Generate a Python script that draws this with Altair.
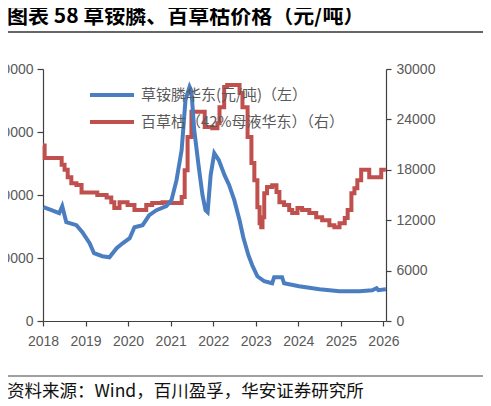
import altair as alt
import pandas as pd

# ---------------- data ----------------
years = list(range(2018, 2027))
series_names = ["草铵膦华东(元/吨)（左）", "百草枯（42%母液华东）（右）"]
left_ticks = [0, 100000, 200000, 300000, 400000]
right_ticks = [0, 6000, 12000, 18000, 24000, 30000]
title_text = ["图表 58 草铵膦、百草枯价格（元/吨）"]
source_text = ["资料来源：Wind，百川盈孚，华安证券研究所"]

glu_dates = [
    "2018-01-05", "2018-03-15", "2018-05-20", "2018-06-15", "2018-07-20", "2018-10-15",
    "2018-12-05", "2019-02-05", "2019-03-15", "2019-05-25", "2019-07-25", "2019-09-25",
    "2019-11-15", "2020-01-15", "2020-02-25", "2020-05-05", "2020-07-01", "2020-09-01",
    "2020-11-25", "2021-01-08", "2021-02-20", "2021-04-05", "2021-05-08", "2021-06-12",
    "2021-06-28", "2021-07-22", "2021-08-28", "2021-10-01", "2021-10-27", "2021-11-14",
    "2021-12-10", "2022-01-10", "2022-02-18", "2022-04-08", "2022-05-18", "2022-07-01",
    "2022-08-15", "2022-09-16", "2022-10-30", "2022-12-02", "2023-01-15", "2023-03-15",
    "2023-05-22", "2023-06-08", "2023-08-15", "2023-09-01", "2024-01-08", "2024-07-01",
    "2024-12-20", "2025-06-10", "2025-09-27", "2025-11-03", "2025-11-18", "2026-01-22",
]
glu_values = [
    180700, 175900, 171100, 182300, 156800, 152100,
    140900, 123400, 107600, 102800, 101200, 115500,
    123400, 131400, 148900, 152100, 168000, 175900,
    182300, 191800, 223600, 271300, 350800, 371500,
    365000, 303000, 247400, 199700, 175900, 172700,
    231500, 266500, 255400, 231500, 215600, 191800,
    160000, 133000, 104400, 88500, 71000, 63100,
    59900, 69500, 69500, 59900, 55100, 50400,
    47200, 47200, 48800, 52000, 49000, 50400,
]

pq_dates = [
    "2018-01-01", "2018-01-15", "2018-06-10", "2018-07-05", "2018-08-01", "2018-09-01",
    "2018-10-15", "2018-11-28", "2019-04-12", "2019-07-01", "2019-08-10", "2019-09-05",
    "2019-10-20", "2019-12-28", "2020-02-25", "2020-06-05", "2020-07-26", "2020-10-22",
    "2020-12-05", "2021-04-05", "2021-05-01", "2021-05-26", "2021-06-28", "2021-10-20",
    "2021-12-24", "2022-02-06", "2022-02-24", "2022-04-05", "2022-05-01", "2022-08-15",
    "2022-09-09", "2022-10-23", "2022-11-25", "2022-12-20", "2023-01-15", "2023-02-03",
    "2023-02-17", "2023-02-28", "2023-03-15", "2023-04-08", "2023-05-22", "2023-06-28",
    "2023-07-23", "2023-09-01", "2023-10-15", "2023-11-10", "2023-12-25", "2024-02-03",
    "2024-04-05", "2024-06-03", "2024-07-24", "2024-09-24", "2024-11-06", "2024-12-20",
    "2025-02-03", "2025-02-28", "2025-04-01", "2025-04-27", "2025-05-22", "2025-06-24",
    "2025-09-01", "2025-12-13", "2026-01-22",
]
pq_values = [
    20900, 19400, 18600, 18000, 17100, 16400,
    16200, 15300, 15000, 14700, 14150, 13450,
    14150, 13800, 13200, 13800, 14050, 14150,
    14050, 14750, 17950, 21900, 24900, 23100,
    22950, 23550, 25450, 27850, 28100, 27150,
    25450, 21900, 18800, 16750, 13550, 11650,
    11150, 12350, 15200, 15950, 16150, 15350,
    14150, 13800, 13200, 12850, 13450, 13200,
    12850, 12350, 12000, 11400, 11150, 11650,
    12250, 13200, 15200, 15800, 16750, 18000,
    17100, 18000, 18000,
]

# ---------------- styles ----------------
BLUE = "#4A7EC1"
RED = "#C0504D"
AXIS_COLOR = "#404040"
LABEL_COLOR = "#595959"
NUM_FONT = "Liberation Sans"
CJK_FONT = "Noto Sans CJK SC"

glu_df = pd.DataFrame({"date": glu_dates, "value": glu_values, "series": series_names[0]})
pq_df = pd.DataFrame({"date": pq_dates, "value": pq_values, "series": series_names[1]})

x_enc = alt.X(
    "date:T",
    scale=alt.Scale(
        type="utc",
        domain=[alt.DateTime(year=2018, month=1, date=1, utc=True),
                alt.DateTime(year=2026, month=1, date=23, utc=True)],
    ),
    axis=alt.Axis(
        values=[alt.DateTime(year=y, month=1, date=1, utc=True) for y in years],
        format="%Y", title=None, grid=False, tickSize=5, labelPadding=8,
        labelFontSize=14, labelFont=NUM_FONT, labelColor=LABEL_COLOR,
        domainColor=AXIS_COLOR, tickColor=AXIS_COLOR, domainWidth=1.2, tickWidth=1.2,
        labelFlush=False,
    ),
)

color_enc = alt.Color(
    "series:N",
    scale=alt.Scale(domain=series_names, range=[BLUE, RED]),
    legend=alt.Legend(
        orient="none", legendX=45, legendY=18, title=None, symbolType="stroke",
        symbolSize=1936, symbolStrokeWidth=4, labelFontSize=15, labelColor=LABEL_COLOR,
        labelFont=CJK_FONT, labelOffset=5, clipHeight=16, rowPadding=11, padding=0,
        labelLimit=400,
    ),
)

red_line = alt.Chart(pq_df).mark_line(strokeWidth=4, interpolate="step-after").encode(
    x=x_enc,
    y=alt.Y(
        "value:Q",
        scale=alt.Scale(domain=[0, 30000], nice=False),
        axis=alt.Axis(
            orient="right", values=right_ticks, format="d", title=None, grid=False,
            tickSize=5, labelPadding=5, labelFontSize=14, labelFont=NUM_FONT,
            labelColor=LABEL_COLOR, domainColor=AXIS_COLOR, tickColor=AXIS_COLOR,
            domainWidth=1.2, tickWidth=1.2,
        ),
    ),
    color=color_enc,
)

blue_line = alt.Chart(glu_df).mark_line(strokeWidth=4).encode(
    x=x_enc,
    y=alt.Y(
        "value:Q",
        scale=alt.Scale(domain=[0, 400000], nice=False),
        axis=alt.Axis(
            orient="left", values=left_ticks, format="d", title=None, grid=False,
            tickSize=6, labelPadding=4, labelFontSize=14, labelFont=NUM_FONT,
            labelColor=LABEL_COLOR, domainColor=AXIS_COLOR, tickColor=AXIS_COLOR,
            domainWidth=1.2, tickWidth=1.2,
        ),
    ),
    color=color_enc,
)

title_mark = alt.Chart(pd.DataFrame({"t": title_text})).mark_text(
    align="left", baseline="middle", font=CJK_FONT, fontSize=21, fontWeight="bold", color="#000000"
).encode(text="t:N", x=alt.value(-36), y=alt.value(-52))

source_mark = alt.Chart(pd.DataFrame({"t": source_text})).mark_text(
    align="left", baseline="middle", font=CJK_FONT, fontSize=17.5, color="#111111"
).encode(text="t:N", x=alt.value(-36), y=alt.value(323))

top_rule = alt.Chart(pd.DataFrame({"t": title_text})).mark_rule(
    color="#333333", strokeWidth=1.6
).encode(x=alt.value(-38), x2=alt.value(440), y=alt.value(-37))

bottom_rule = alt.Chart(pd.DataFrame({"t": source_text})).mark_rule(
    color="#808080", strokeWidth=1.6
).encode(x=alt.value(-38), x2=alt.value(440), y=alt.value(307))

chart = alt.layer(
    red_line, blue_line, title_mark, source_mark, top_rule, bottom_rule
).resolve_scale(y="independent").properties(
    width=343, height=252,
    autosize=alt.AutoSizeParams(type="none"),
    padding={"left": 35, "top": 61, "right": 97, "bottom": 83},
).configure_view(stroke=None)

chart.save("out.html", embed_options={"renderer": "svg", "actions": False})
